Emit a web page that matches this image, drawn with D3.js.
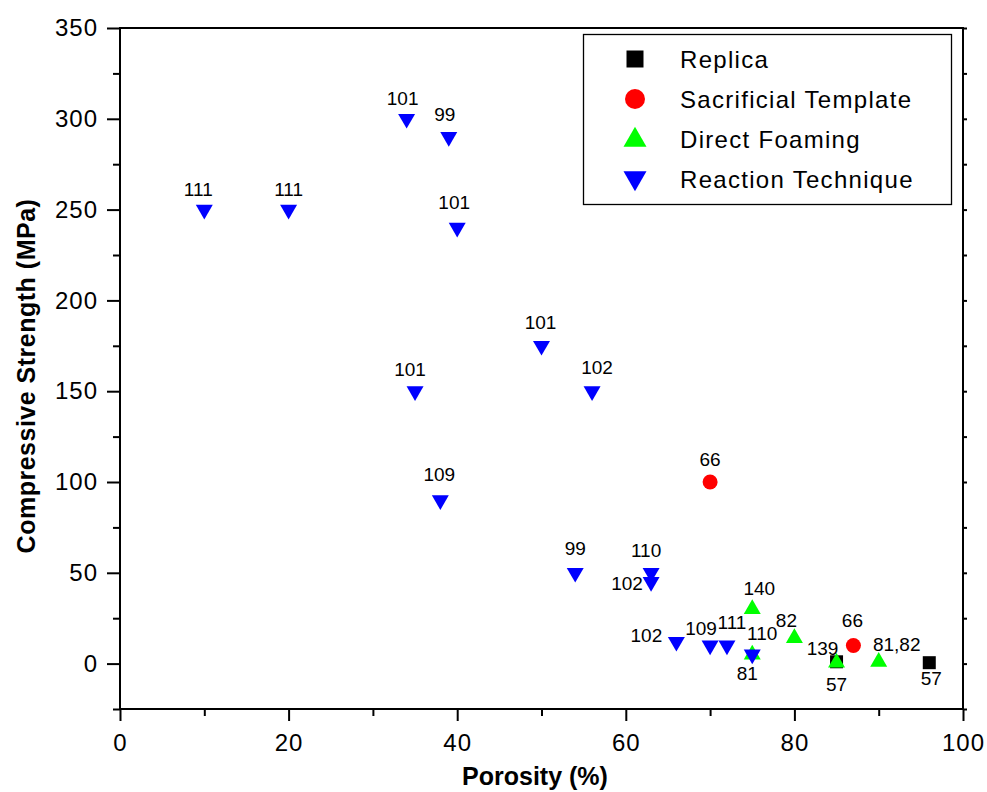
<!DOCTYPE html>
<html>
<head>
<meta charset="utf-8">
<script src="https://cdn.jsdelivr.net/npm/d3@7"></script>
<style>
  body { margin: 0; background: #fff; }
  svg { display: block; font-family: "Liberation Sans", Arial, Helvetica, sans-serif; }
</style>
</head>
<body>
<svg id="svg" width="987" height="792"></svg>
<script>
// porosity (%) vs compressive strength (MPa), labels are reference numbers
const replicaX = [85, 96];
const replicaY = [1, 0.5];
const replicaRef = ["57", "57"];

const templateX = [70, 87];
const templateY = [100, 10];
const templateRef = ["66", "66"];

const foamingX = [75, 80, 75, 85, 90];
const foamingY = [30, 14, 5, 0.5, 1];
const foamingRef = ["140", "82", "81", "139", "81,82"];

const reactionX = [10, 20, 34, 39, 40, 50, 35, 56, 38, 54, 63, 63, 66, 70, 72, 75];
const reactionY = [250, 250, 300, 290, 240, 175, 150, 150, 90, 50, 50, 45, 12, 10, 10, 5];
const reactionRef = ["111", "111", "101", "99", "101", "101", "101", "102", "109", "99", "110", "102", "102", "109", "111", "110"];

const xTicks = [0, 20, 40, 60, 80, 100];
const yTicks = [0, 50, 100, 150, 200, 250, 300, 350];

// where each reference label sits relative to its marker (px)
const replicaLabelOff = [[0, 29], [2, 22]];
const templateLabelOff = [[0, -16], [-1, -18]];
const foamingLabelOff = [[7, -14], [-8, -11], [-5, 25], [-14, -8], [18, -11]];
const reactionLabelOff = [[-6, -14], [0, -14], [-4, -14], [-4, -16], [-3, -19], [-1, -17], [-5, -15], [5, -17],
    [-1, -19], [0, -18], [-5, -16], [-24, 8], [-30, 0], [-9, -10], [5, -16], [10, -15]];

const svg = d3.select("svg#svg");
const m = {left: 120, right: 963, top: 28, bottom: 709};

const x = d3.scaleLinear().domain([0, 100]).range([m.left, m.right]);
const y = d3.scaleLinear().domain([-25, 350]).range([m.bottom, m.top]);

// axes
const fmt = d3.format("d");
const minorX = d3.range(10, 100, 20);
const minorY = d3.range(-25, 350, 50);

svg.append("g").attr("transform", `translate(0,${m.bottom})`)
    .call(d3.axisBottom(x).tickValues(xTicks).tickFormat(fmt).tickSize(12).tickPadding(13))
    .call(g => g.select(".domain").remove());
svg.append("g").attr("transform", `translate(0,${m.bottom})`)
    .call(d3.axisBottom(x).tickValues(minorX).tickFormat("").tickSize(7))
    .call(g => g.select(".domain").remove());
svg.append("g").attr("transform", `translate(${m.left},0)`)
    .call(d3.axisLeft(y).tickValues(yTicks).tickFormat(fmt).tickSize(13).tickPadding(9))
    .call(g => g.select(".domain").remove());
svg.append("g").attr("transform", `translate(${m.left},0)`)
    .call(d3.axisLeft(y).tickValues(minorY).tickFormat("").tickSize(7))
    .call(g => g.select(".domain").remove());
svg.append("g").attr("transform", `translate(${m.right},0)`)
    .call(d3.axisRight(y).tickValues(yTicks.concat(minorY)).tickFormat("").tickSize(4))
    .call(g => g.select(".domain").remove());

svg.selectAll(".tick line").attr("stroke", "#000").attr("stroke-width", 2);
svg.selectAll(".tick text").attr("font-size", 24).attr("fill", "#000")
    .attr("letter-spacing", 1)
    .attr("font-family", "'Liberation Sans', Arial, sans-serif");

// frame
svg.append("rect")
    .attr("x", m.left).attr("y", m.top)
    .attr("width", m.right - m.left).attr("height", m.bottom - m.top)
    .attr("fill", "none").attr("stroke", "#000").attr("stroke-width", 2);

// titles
svg.append("text").attr("x", 535).attr("y", 785).attr("text-anchor", "middle")
    .attr("font-size", 25).attr("font-weight", "bold").text("Porosity (%)");
svg.append("text").attr("transform", "translate(35,376) rotate(-90)").attr("text-anchor", "middle")
    .attr("font-size", 25).attr("font-weight", "bold").attr("letter-spacing", 0.5)
    .text("Compressive Strength (MPa)");

// series
const series = [
    {name: "Replica", xs: replicaX, ys: replicaY, refs: replicaRef, off: replicaLabelOff,
     color: "#000000", type: d3.symbolSquare, size: 169, legSize: 289, rot: 0},
    {name: "Sacrificial Template", xs: templateX, ys: templateY, refs: templateRef, off: templateLabelOff,
     color: "#ff0000", type: d3.symbolCircle, size: 177, legSize: 314, rot: 0},
    {name: "Direct Foaming", xs: foamingX, ys: foamingY, refs: foamingRef, off: foamingLabelOff,
     color: "#00ff00", type: d3.symbolTriangle, size: 125, legSize: 229, rot: 0},
    {name: "Reaction Technique", xs: reactionX, ys: reactionY, refs: reactionRef, off: reactionLabelOff,
     color: "#0000ff", type: d3.symbolTriangle, size: 125, legSize: 229, rot: 180}
];

series.forEach(s => {
    const pts = s.xs.map((v, i) => ({x: v, y: s.ys[i], ref: s.refs[i], off: s.off[i]}));
    svg.append("g").selectAll("path").data(pts).enter().append("path")
        .attr("d", d3.symbol().type(s.type).size(s.size))
        .attr("transform", d => `translate(${x(d.x)},${y(d.y)}) rotate(${s.rot})`)
        .attr("fill", s.color);
});

// labels on top
series.forEach(s => {
    const pts = s.xs.map((v, i) => ({x: v, y: s.ys[i], ref: s.refs[i], off: s.off[i]}));
    svg.append("g").selectAll("text").data(pts).enter().append("text")
        .attr("x", d => x(d.x) + d.off[0])
        .attr("y", d => y(d.y) + d.off[1])
        .attr("text-anchor", "middle")
        .attr("font-size", 19)
        .text(d => d.ref);
});

// legend
const leg = svg.append("g");
leg.append("rect").attr("x", 583.5).attr("y", 34.5).attr("width", 368).attr("height", 170)
    .attr("fill", "#fff").attr("stroke", "#000").attr("stroke-width", 1.3);
series.forEach((s, i) => {
    const cy = 59 + i * 40;
    leg.append("path")
        .attr("d", d3.symbol().type(s.type).size(s.legSize))
        .attr("transform", `translate(635,${cy + (s.type === d3.symbolTriangle ? (s.rot ? -1 : 1) : 0)}) rotate(${s.rot})`)
        .attr("fill", s.color);
    leg.append("text").attr("x", 680).attr("y", cy + 9)
        .attr("font-size", 24).attr("letter-spacing", 1.3).text(s.name);
});
</script>
</body>
</html>
